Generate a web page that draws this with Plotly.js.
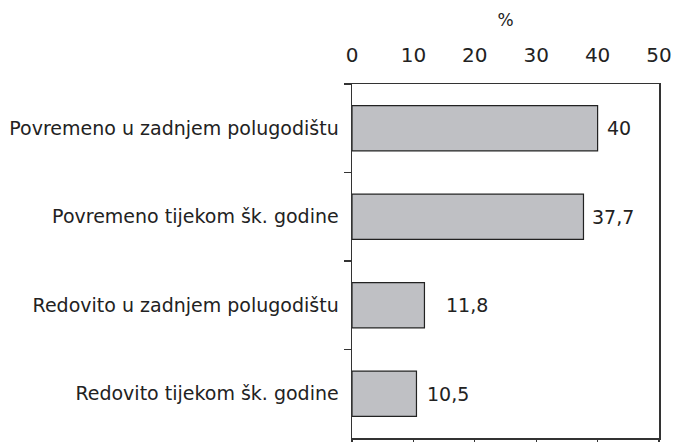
<!DOCTYPE html>
<html>
<head>
<meta charset="utf-8">
<script src="https://cdn.plot.ly/plotly-3.0.1.min.js"></script>
<style>html,body{margin:0;padding:0;background:#fff;}#chart{width:673px;height:442px;}</style>
</head>
<body>
<div id="chart"></div>
<script>
const categories = [
  "Povremeno u zadnjem polugodištu",
  "Povremeno tijekom šk. godine",
  "Redovito u zadnjem polugodištu",
  "Redovito tijekom šk. godine"
];
const values = [40, 37.7, 11.8, 10.5];
const xTicks = [0, 10, 20, 30, 40, 50];
const axisTitle = "%";

const labels = values.map(v => String(v).replace('.', ','));
const labelShift = [7, 7, 20, 9];
const font = {family: "DejaVu Sans", size: 19, color: "#222"};

const data = [
  {
    type: 'bar', orientation: 'h',
    x: values, y: categories,
    marker: {color: '#bfc0c4', line: {color: '#222', width: 1.2}},
    xaxis: 'x', yaxis: 'y', hoverinfo: 'none'
  },
  {type: 'scatter', x: [], y: [], xaxis: 'x2', yaxis: 'y', showlegend: false, hoverinfo: 'none'}
];

const annotations = values.map((v, i) => ({
  x: v, y: categories[i], xref: 'x', yref: 'y',
  text: labels[i], showarrow: false, xanchor: 'left', yanchor: 'middle',
  xshift: labelShift[i], font: font
}));

const layout = {
  width: 673, height: 442,
  margin: {l: 352, r: 14, t: 84, b: 4},
  paper_bgcolor: '#fff', plot_bgcolor: '#fff',
  showlegend: false,
  bargap: 0.49,
  font: font,
  annotations: annotations,
  xaxis: {
    range: [0, 50], side: 'bottom', tickvals: xTicks,
    showticklabels: false, ticks: 'outside', ticklen: 8, tickcolor: '#333', tickwidth: 1.2,
    showgrid: false, zeroline: false, showline: true, linecolor: '#333', linewidth: 1.5, mirror: true
  },
  xaxis2: {
    range: [0, 50], side: 'top', overlaying: 'x', tickvals: xTicks,
    ticks: '', showgrid: false, zeroline: false, showline: false,
    ticklabelstandoff: 17, tickfont: {family: "DejaVu Sans", size: 20, color: "#222"},
    title: {text: axisTitle, font: {family: "DejaVu Sans", size: 17, color: "#222"}, standoff: 12}
  },
  yaxis: {
    type: 'category', autorange: 'reversed',
    ticks: 'outside', tickson: 'boundaries', ticklen: 7, tickcolor: '#333', tickwidth: 1.2,
    showgrid: false, zeroline: false, showline: true, linecolor: '#333', linewidth: 1.5, mirror: true,
    ticklabelstandoff: 8, tickfont: font
  }
};

Plotly.newPlot('chart', data, layout, {displayModeBar: false, staticPlot: true});
</script>
</body>
</html>
